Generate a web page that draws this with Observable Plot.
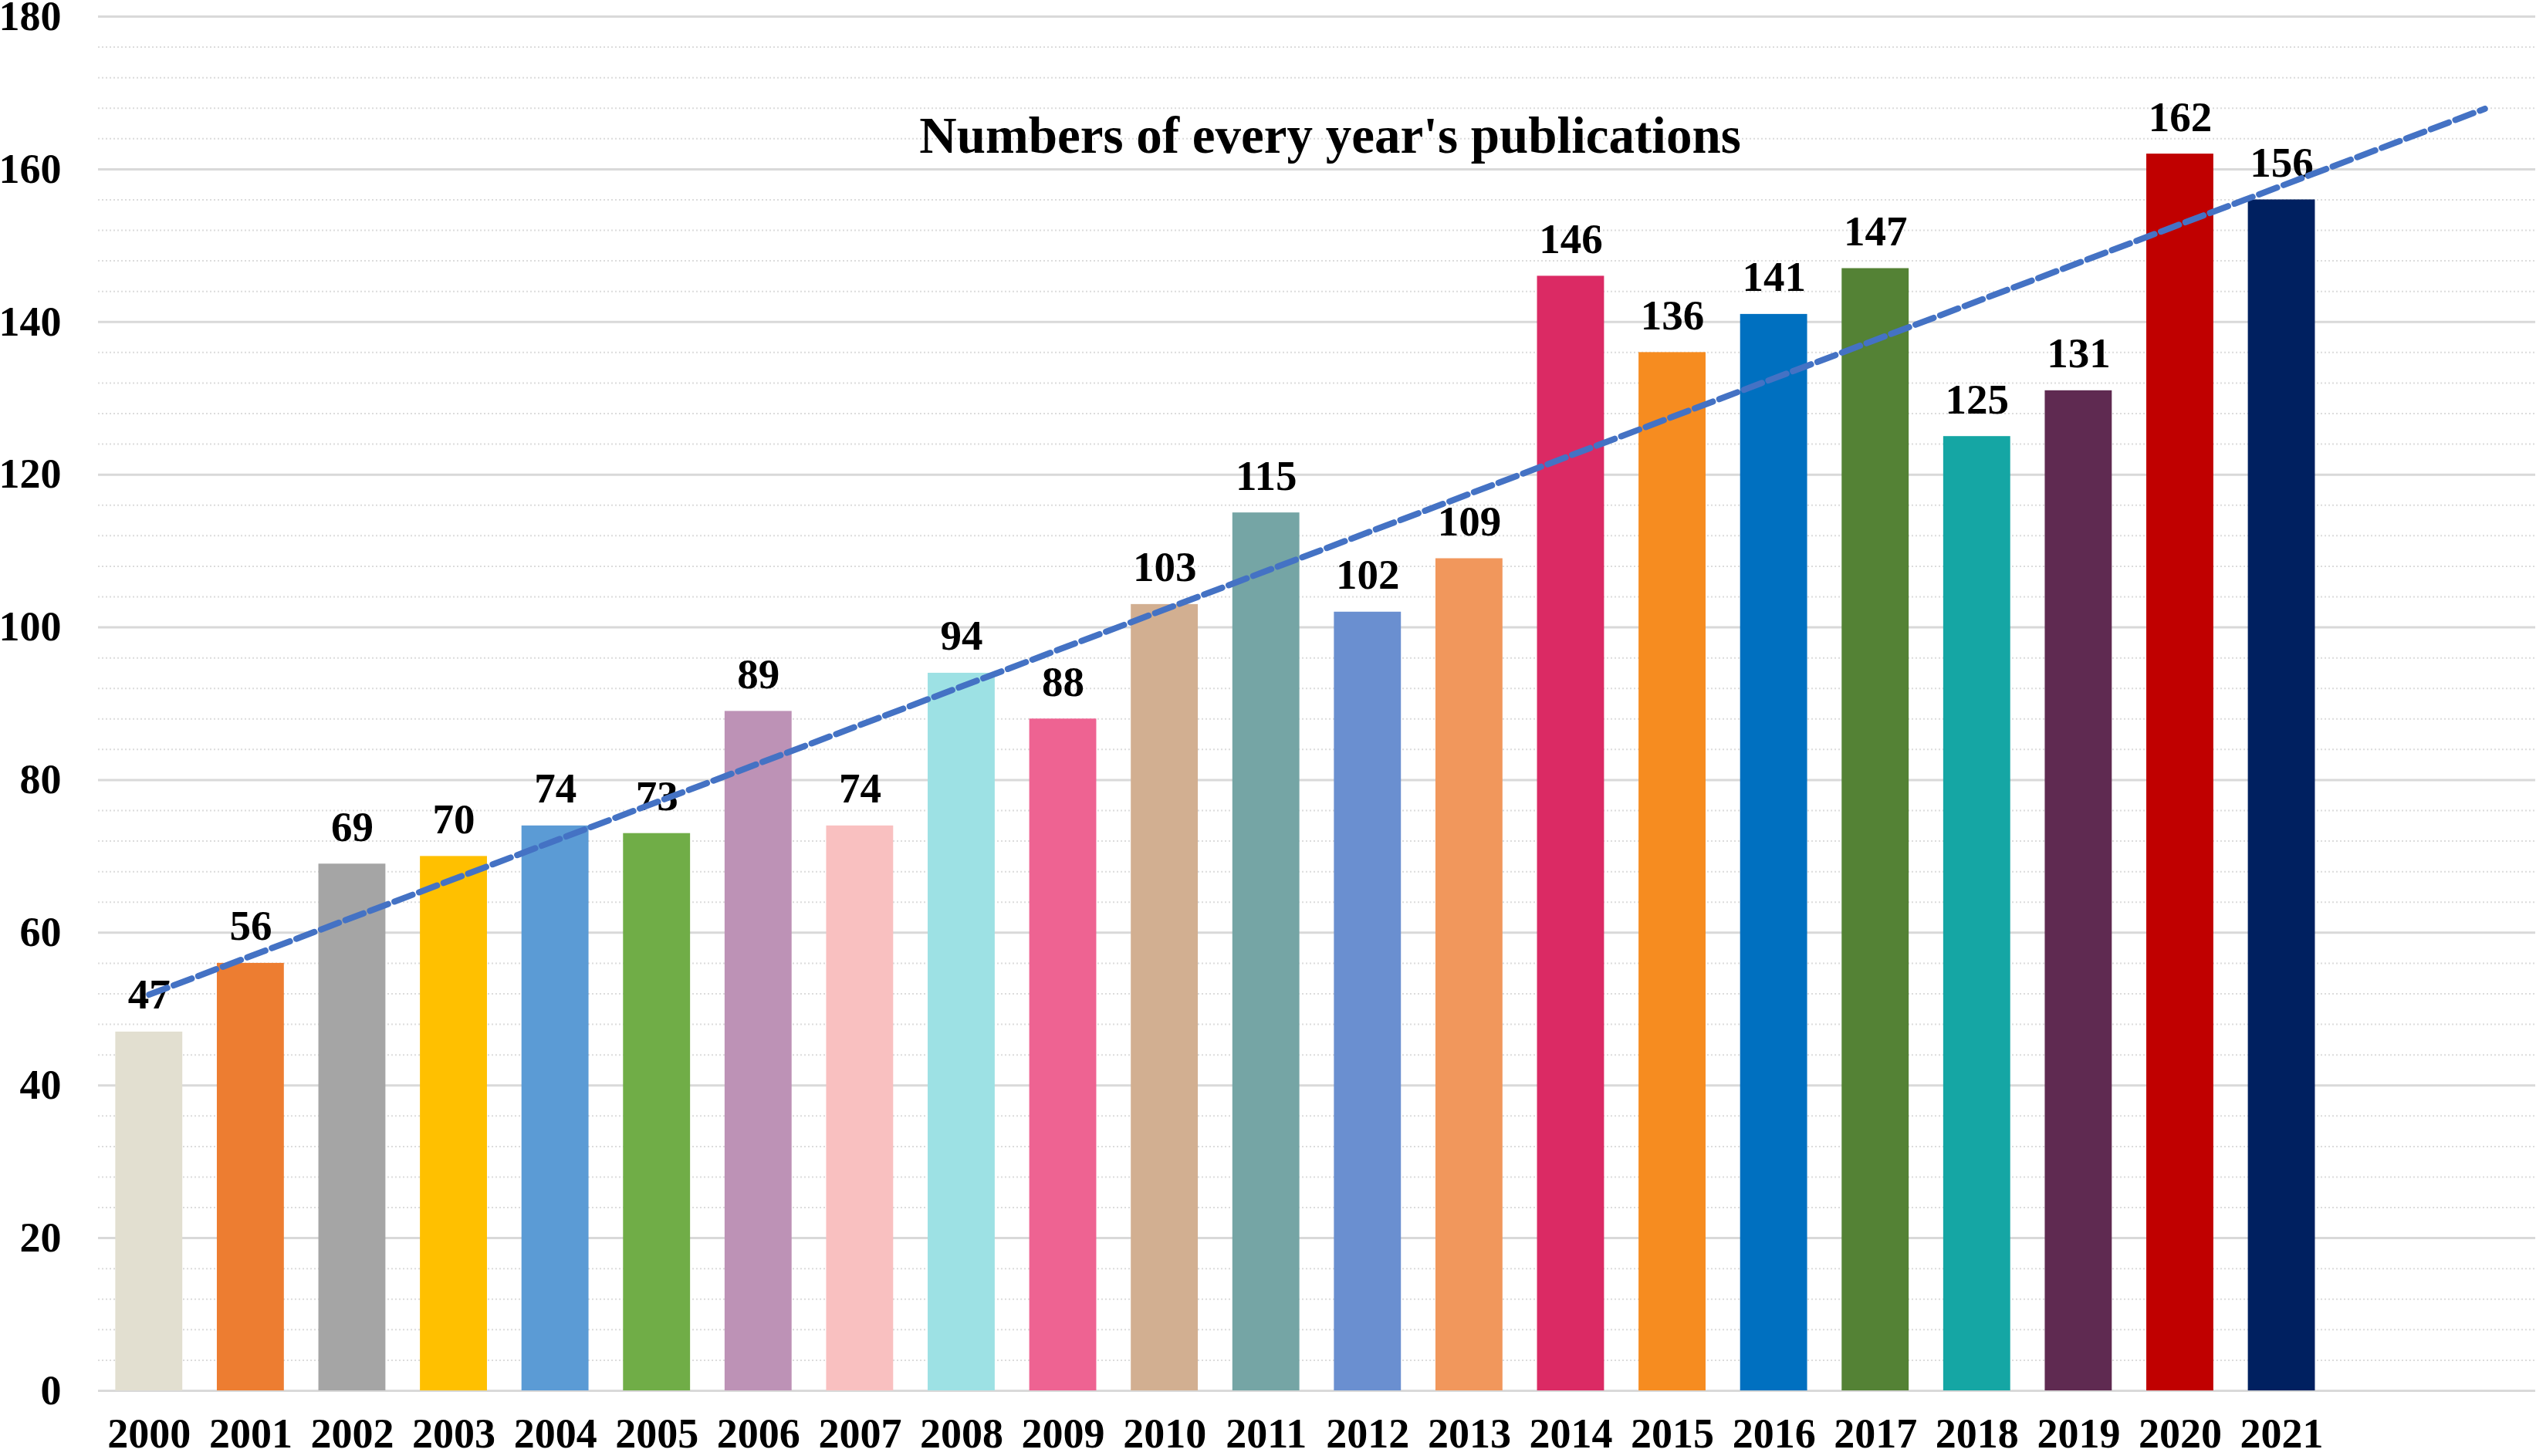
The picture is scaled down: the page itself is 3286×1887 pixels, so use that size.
<!DOCTYPE html>
<html>
<head>
<meta charset="utf-8">
<script src="https://cdn.jsdelivr.net/npm/d3@7"></script>
<script src="https://cdn.jsdelivr.net/npm/@observablehq/plot@0.6"></script>
<style>
  html, body { margin: 0; padding: 0; background: #fff; }
</style>
</head>
<body>
<div id="chart"></div>
<script>
const years = ["2000","2001","2002","2003","2004","2005","2006","2007","2008","2009","2010",
               "2011","2012","2013","2014","2015","2016","2017","2018","2019","2020","2021"];
const counts = [47, 56, 69, 70, 74, 73, 89, 74, 94, 88, 103,
                115, 102, 109, 146, 136, 141, 147, 125, 131, 162, 156];
const barColors = ["#E2DFD0","#ED7D31","#A5A5A5","#FFC000","#5B9BD5","#70AD47","#BD92B6","#F9C0C0",
                   "#9DE1E4","#EE6392","#D2AF91","#75A5A5","#6A8FD0","#F1975C","#DB2A64","#F68C20",
                   "#0070C0","#548235","#15A6A4","#5F2A51","#C00000","#002060"];
const forecastYears = ["2022","2023"];
const yTicks = [0, 20, 40, 60, 80, 100, 120, 140, 160, 180];
const title = "Numbers of every year's publications";

const data = years.map((year, i) => ({year, count: counts[i], color: barColors[i]}));

// linear trend line (least squares), extended two periods forward
const idx = d3.range(counts.length);
const mx = d3.mean(idx), my = d3.mean(counts);
const slope = d3.sum(idx, i => (i - mx) * (counts[i] - my)) / d3.sum(idx, i => (i - mx) ** 2);
const intercept = my - slope * mx;
const allYears = years.concat(forecastYears);
const trend = [0, allYears.length - 1].map(i => ({year: allYears[i], value: intercept + slope * i}));

const minorTicks = d3.range(0, 181, 4).filter(v => v % 20 !== 0);
const font = "'Liberation Serif', 'Times New Roman', serif";

const chart = Plot.plot({
  width: 3286,
  height: 1887,
  marginLeft: 127,
  marginRight: 1,
  marginTop: 21,
  marginBottom: 85,
  style: {fontFamily: font, fontWeight: "bold", color: "#000", background: "#fff"},
  x: {domain: allYears, paddingInner: 0.34, paddingOuter: 0.17, align: 0.5, round: false, label: null},
  y: {domain: [0, 180], label: null},
  marks: [
    Plot.ruleY(minorTicks, {stroke: "#dcdcdc", strokeWidth: 2, strokeDasharray: "2,3"}),
    Plot.ruleY(yTicks, {stroke: "#d9d9d9", strokeWidth: 3}),
    Plot.barY(data, {x: "year", y: "count", fill: d => d.color}),
    Plot.text(data, {x: "year", y: "count", text: d => String(d.count), lineAnchor: "bottom",
                     dy: -30, fontSize: 55, fontWeight: "bold", fill: "#000"}),
    Plot.line(trend, {x: "year", y: "value", stroke: "#4472C4", strokeWidth: 8,
                      strokeDasharray: "25,9"}),
    Plot.text([title], {frameAnchor: "top", lineAnchor: "bottom", dx: 17, dy: 176,
                        fontSize: 67, fontWeight: "bold", fill: "#000"}),
    Plot.axisX({tickSize: 0, tickPadding: 35, fontSize: 54, label: null,
                tickFormat: d => years.includes(d) ? d : ""}),
    Plot.axisY({ticks: yTicks, tickSize: 0, tickPadding: 48, fontSize: 54, label: null})
  ]
});
document.getElementById("chart").appendChild(chart);
</script>
</body>
</html>
